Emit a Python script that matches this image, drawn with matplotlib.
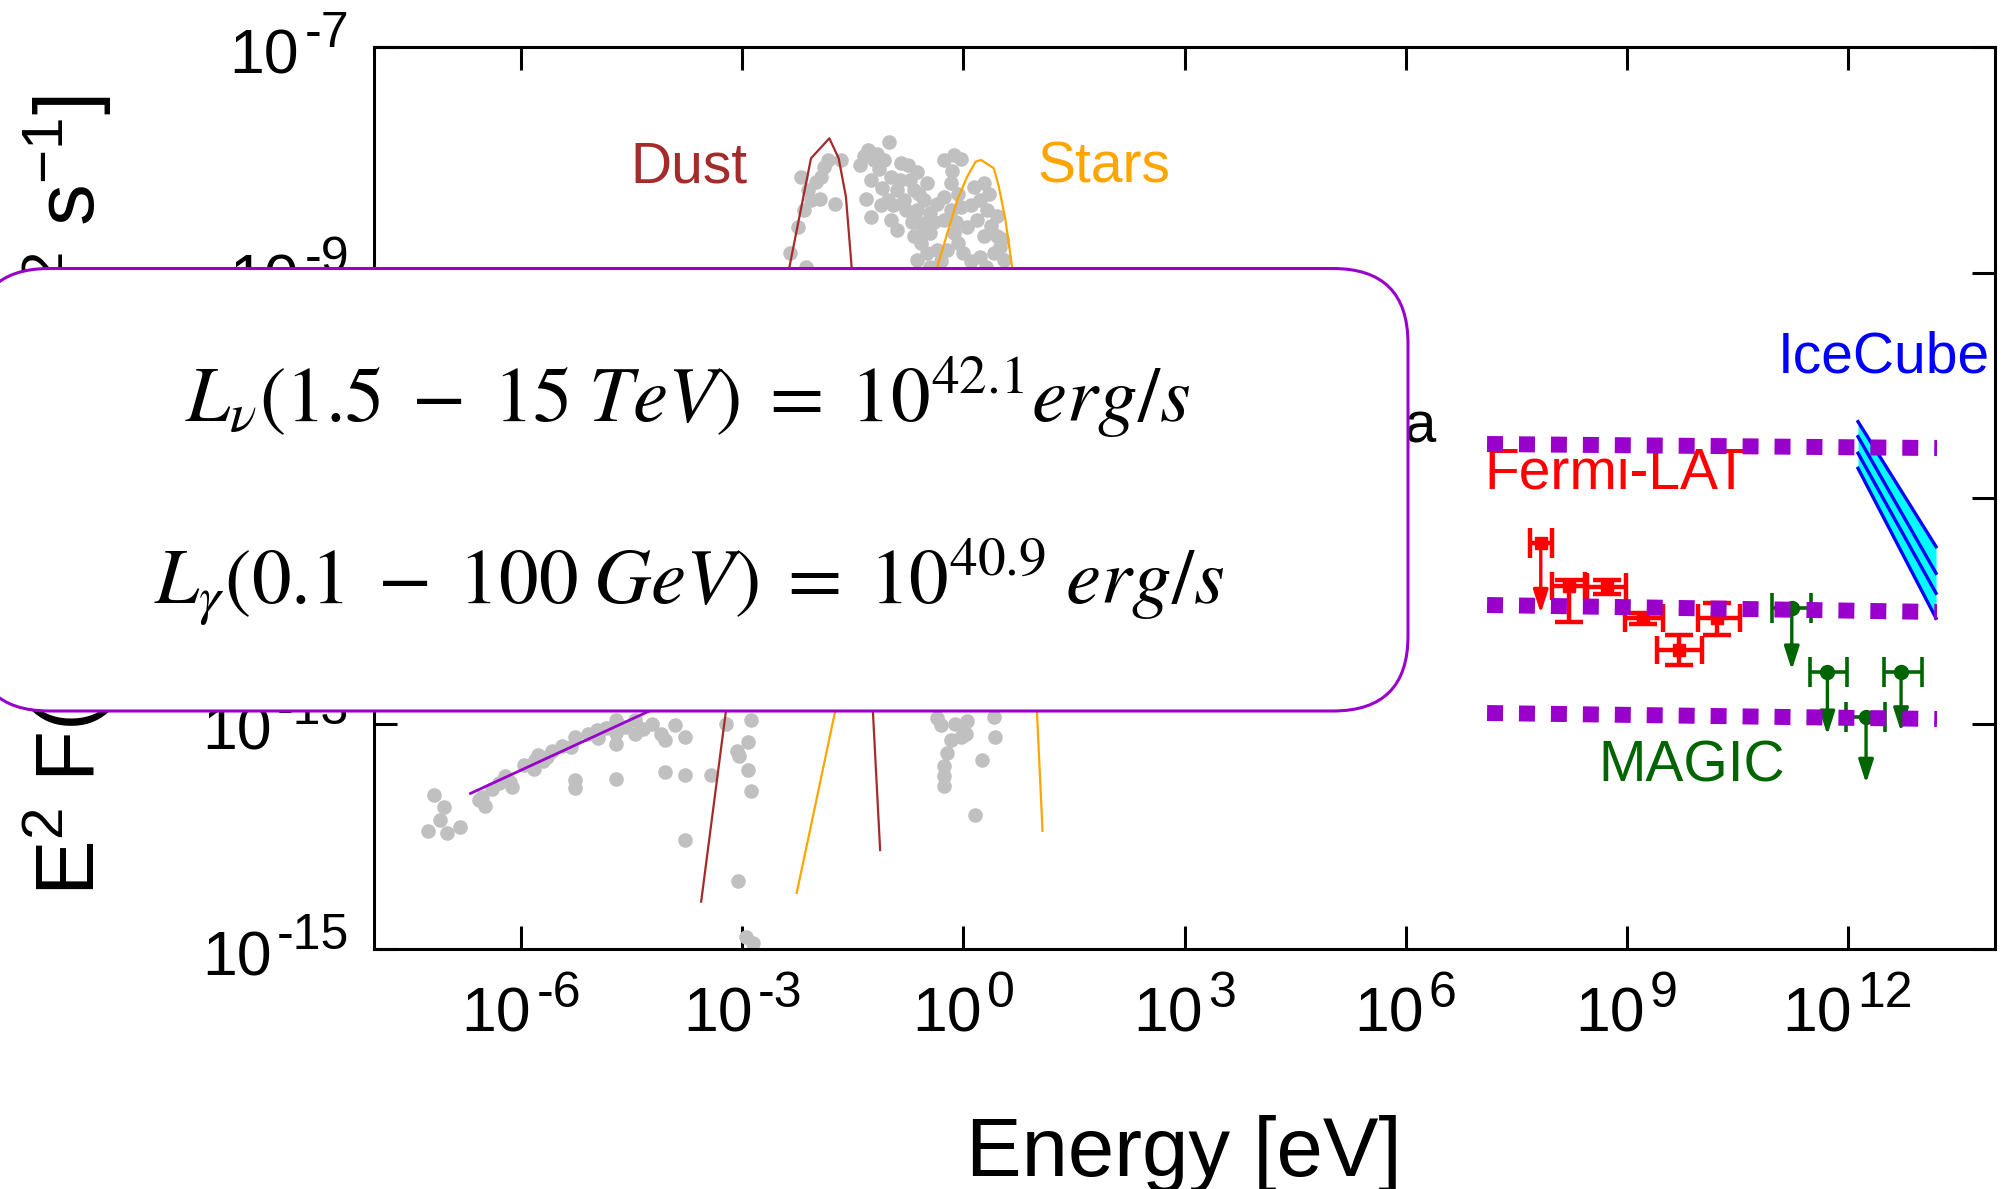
import numpy as np
import matplotlib
matplotlib.use("Agg")
import matplotlib.pyplot as plt
from matplotlib.patches import FancyBboxPatch
from matplotlib.ticker import NullLocator

plt.rcParams['font.family'] = ['Liberation Sans', 'DejaVu Sans']
plt.rcParams['mathtext.fontset'] = 'custom'
plt.rcParams['mathtext.rm'] = 'Liberation Sans'
plt.rcParams['mathtext.it'] = 'Liberation Sans:italic'
plt.rcParams['mathtext.bf'] = 'Liberation Sans:bold'

W, H, DPI = 2005, 1189, 100

# ---------------------------------------------------------------- data
# all values are log10(E / eV) and log10(E^2 F / erg cm^-2 s^-1)

# archival multi-wavelength photometry
archive_logE = [
    -7.19, -7.05, -7.10, -7.27, -7.01, -6.83, -6.58, -6.50, -6.53, -6.15,
    -6.13, -6.22, -5.83, -5.81, -5.77, -5.59, -5.27, -5.32, -5.27, -5.27,
    -4.98, -4.96, -4.71, -4.71, -4.71, -4.71, -4.46, -4.46, -4.23, -4.10,
    -4.05, -3.92, -3.78, -4.05, -3.78, -3.42, -3.78, -3.22, -2.88, -2.93,
    -3.08, -3.04, -2.93, -2.88, -3.06, -2.95, -2.86,
    -6.31, -5.97, -5.65, -5.45, -6.40, -5.70, -5.10, -4.85, -4.60, -4.35,
    -0.355, -0.31, 0.00, 0.03, -0.04, -0.175, -0.22, -0.26, -0.26, -0.26,
    0.25, 0.16, 0.41, 0.43, 0.05, -0.12,
    -2.20, -2.11, -2.07, -1.89, -1.84, -1.93, -1.75, -1.66, -2.36, -2.14,
    -2.16, -2.00, -2.25, -1.95,
    -1.30, -1.21, -1.35, -1.01, -1.08, -0.85, -1.26, -0.99, -0.90, -0.72,
    -0.63, -0.67, -0.49, -1.03, -0.81, -0.53, -1.26, -0.99, -0.90, -0.63,
    -0.58, -0.45, -0.355, -0.67, -0.58, -0.49, -0.63, -0.355, -0.45,
    -1.15, -1.10, -0.95, -0.78, -0.70, -0.55, -0.40, -0.75, -0.60, -0.45,
    -1.40, -1.12, -1.32, -0.86, -1.18,
    -0.26, -0.13, -0.04, -0.175, -0.26, -0.08, -0.175, -0.04, -0.26, -0.13,
    -0.08, -0.22, 0.00, 0.14, 0.28, 0.23, 0.32, 0.19, 0.37, 0.28,
    0.46, 0.50, 0.23, 0.41, 0.55,
    -0.30, -0.10, 0.05, 0.10, 0.35, 0.45, 0.10, -0.15, 0.30, 0.52,
]
archive_logF = [
    -13.63, -13.74, -13.86, -13.95, -13.97, -13.92, -13.68, -13.73, -13.65, -13.52,
    -13.56, -13.47, -13.40, -13.32, -13.28, -13.24, -13.12, -13.21, -13.50, -13.57,
    -13.06, -13.13, -13.49, -12.97, -13.18, -13.08, -12.97, -13.09, -13.00, -13.09,
    -13.15, -13.01, -13.12, -13.43, -13.46, -13.46, -14.03, -13.00, -12.97, -13.16,
    -13.24, -13.29, -13.41, -13.60, -14.40, -14.89, -14.95,
    -13.53, -13.37, -13.30, -13.20, -13.58, -13.33, -13.09, -13.04, -13.03, -13.05,
    -12.95, -13.01, -13.03, -13.09, -13.12, -13.15, -13.26, -13.38, -13.47, -13.55,
    -13.32, -13.81, -12.94, -13.12, -12.98, -13.00,
    -8.15, -8.27, -8.36, -8.06, -8.00, -8.15, -8.39, -8.00, -8.83, -8.95,
    -8.45, -8.20, -8.60, -8.35,
    -7.91, -8.00, -7.97, -7.84, -8.00, -8.03, -8.18, -8.15, -8.27, -8.18,
    -8.11, -8.27, -8.21, -8.36, -8.36, -8.36, -8.51, -8.53, -8.62, -8.45,
    -8.56, -8.47, -8.39, -8.68, -8.74, -8.83, -8.89, -8.80, -8.65,
    -8.08, -8.25, -8.40, -8.45, -8.55, -8.62, -8.55, -8.05, -8.30, -8.95,
    -8.05, -8.40, -8.35, -8.18, -7.95,
    -8.00, -7.96, -7.99, -8.21, -8.33, -8.30, -8.45, -8.42, -8.53, -8.65,
    -8.74, -8.80, -8.83, -8.24, -8.21, -8.36, -8.45, -8.53, -8.59, -8.68,
    -8.68, -8.77, -8.86, -8.83, -8.89,
    -8.90, -8.55, -8.60, -8.40, -8.30, -8.50, -8.90, -8.10, -8.95, -8.70,
]

# radio synchrotron power law
radio_logE = [-6.69, -4.00]
radio_logF = [-13.62, -12.81]

# thermal dust component
dust_logE = [-3.56, -3.23, -2.361, -2.069, -1.820, -1.694, -1.595, -1.518, -1.227, -1.131]
dust_logF = [-14.58, -12.92, -8.949, -7.987, -7.810, -7.987, -8.328, -8.949, -12.916, -14.122]

# stellar component
stars_logE = [-2.263, -1.749, -0.355, -0.084, 0.051, 0.164, 0.241, 0.413, 0.480, 0.570, 0.660, 0.999, 1.073]
stars_logF = [-14.503, -12.916, -8.949, -8.357, -8.150, -8.017, -8.002, -8.076, -8.239, -8.534, -8.949, -12.916, -13.953]

# Fermi-LAT spectral points
fermi_logE    = [8.223, 8.730, 9.227, 9.712, 10.232]
fermi_logE_lo = [7.985, 8.467, 8.979, 9.409, 9.974]
fermi_logE_hi = [8.436, 8.989, 9.490, 10.020, 10.540]
fermi_logF    = [-11.780, -11.791, -12.067, -12.348, -12.067]
fermi_logF_lo = [-12.097, -11.851, -12.117, -12.481, -12.215]
fermi_logF_hi = [-11.727, -11.731, -12.017, -12.215, -11.931]

# Fermi-LAT upper limit
fermi_ul_logE = [7.835]
fermi_ul_logE_lo = [7.690]
fermi_ul_logE_hi = [7.985]
fermi_ul_logF = [-11.402]
fermi_ul_logF_end = [-12.023]

# MAGIC upper limits
magic_logE    = [11.242, 11.725, 12.250, 12.725]
magic_logE_lo = [10.979, 11.490, 11.979, 12.494]
magic_logE_hi = [11.504, 11.988, 12.508, 13.006]
magic_logF    = [-11.978, -12.540, -12.940, -12.540]
magic_logF_end = [-12.525, -13.102, -13.530, -13.073]

# IceCube neutrino spectrum band
icecube_logE = [12.141, 13.200]
icecube_logF = [
    [-10.323, -11.432],
    [-10.456, -11.668],
    [-10.603, -11.845],
    [-10.737, -12.067],
]

# model flux levels
nu_logE = [7.106, 13.213]
nu_levels = [
    [-10.521, -10.557],
    [-11.949, -12.011],
    [-12.907, -12.960],
]

# axis decades
x_tick_exp = [-6, -3, 0, 3, 6, 9, 12]
y_tick_exp = [-15, -13, -11, -9, -7]

# ---------------------------------------------------------------- figure
def E(a):
    return np.power(10.0, np.asarray(a, dtype=float))

PURPLE = '#9900cc'

fig = plt.figure(figsize=(W / DPI, H / DPI), dpi=DPI)
ax = fig.add_axes([374 / W, (H - 949) / H, (1995 - 374) / W, (949 - 47) / H])
ax.set_xscale('log')
ax.set_yscale('log')
ax.set_xlim(1e-8, 1e14)
ax.set_ylim(1e-15, 1e-7)

for s in ax.spines.values():
    s.set_linewidth(2.2)
ax.set_xticks(E(x_tick_exp))
ax.set_yticks(E(y_tick_exp))
ax.xaxis.set_minor_locator(NullLocator())
ax.yaxis.set_minor_locator(NullLocator())
ax.tick_params(which='both', direction='in', length=16.5, width=2.2,
               top=True, right=True, labelbottom=False, labelleft=False)

# archival points
ax.plot(E(archive_logE), E(archive_logF), 'o', ms=10.5, color='#c0c0c0',
        mec='none', zorder=2)

# model components
ax.plot(E(radio_logE), E(radio_logF), color=PURPLE, lw=2.0, zorder=3)
ax.plot(E(dust_logE), E(dust_logF), color='#a52a2a', lw=1.6, zorder=3)
ax.plot(E(stars_logE), E(stars_logF), color='#ffa500', lw=1.6, zorder=3)

# Fermi-LAT
fx, fy = E(fermi_logE), E(fermi_logF)
ax.errorbar(fx, fy,
            xerr=[fx - E(fermi_logE_lo), E(fermi_logE_hi) - fx],
            yerr=[fy - E(fermi_logF_lo), E(fermi_logF_hi) - fy],
            fmt='s', ms=9, color='red', ecolor='red', elinewidth=3.2,
            capsize=10, capthick=3.2, zorder=4)

ARROW = '-|>,head_length=1.4,head_width=0.45'

def upper_limits(logE, lo, hi, logF, logF_end, color, ms, marker, lw):
    x, y = E(logE), E(logF)
    ax.errorbar(x, y, xerr=[x - E(lo), E(hi) - x], fmt=marker, ms=ms,
                color=color, ecolor=color, elinewidth=lw, capsize=10.5,
                capthick=lw, zorder=4)
    for xi, yi, ye in zip(x, y, E(logF_end)):
        ax.annotate('', xy=(xi, ye), xytext=(xi, yi),
                    arrowprops=dict(arrowstyle=ARROW, color=color, lw=2.4,
                                    shrinkA=0, shrinkB=0, mutation_scale=10),
                    zorder=4)

upper_limits(fermi_ul_logE, fermi_ul_logE_lo, fermi_ul_logE_hi,
             fermi_ul_logF, fermi_ul_logF_end, 'red', 9, 's', 3.2)
upper_limits(magic_logE, magic_logE_lo, magic_logE_hi,
             magic_logF, magic_logF_end, '#006400', 10, 'o', 2.6)

# IceCube band
ix = E(icecube_logE)
ice_lines = [E(v) for v in icecube_logF]
ax.fill_between(ix, ice_lines[-1], ice_lines[0], color='#00ffff', lw=0, zorder=4)
for v in ice_lines:
    ax.plot(ix, v, color='#0000ff', lw=2.4, zorder=4.5)

# model flux levels
for lv in nu_levels:
    ax.plot(E(nu_logE), E(lv), color=PURPLE, lw=11.5, dashes=(1, 1),
            dash_capstyle='butt', solid_capstyle='butt', zorder=5)

# component labels
LAB = 41
ax.text(E(-3.724), E(-8.206), 'Dust', color='#a52a2a', fontsize=LAB,
        ha='center', va='baseline')
ax.text(E(1.905), E(-8.206), 'Stars', color='#ffa500', fontsize=LAB,
        ha='center', va='baseline')
ax.text(E(6.427), E(-10.503), 'Data', color='black', fontsize=LAB,
        ha='right', va='baseline')
ax.text(E(8.864), E(-10.920), 'Fermi-LAT', color='red', fontsize=LAB,
        ha='center', va='baseline', zorder=3)
ax.text(E(12.494), E(-9.891), 'IceCube', color='#0000ff', fontsize=LAB,
        ha='center', va='baseline')
ax.text(E(9.888), E(-13.510), 'MAGIC', color='#006400', fontsize=LAB,
        ha='center', va='baseline')

# tick labels as 10 with a raised exponent
TICK_FS, EXP_FS, GAP = 45, 36, 5
x_pairs, y_pairs = [], []
for e in x_tick_exp:
    kw = dict(xycoords=ax.get_xaxis_transform(), xytext=(0, 0),
              textcoords='offset pixels', ha='left', va='baseline',
              annotation_clip=False)
    b = ax.annotate('10', xy=(10.0 ** e, 0), fontsize=TICK_FS, **kw)
    s = ax.annotate(str(e), xy=(10.0 ** e, 0), fontsize=EXP_FS, **kw)
    x_pairs.append((b, s))
for e in y_tick_exp:
    kw = dict(xycoords=ax.get_yaxis_transform(), xytext=(0, 0),
              textcoords='offset pixels', ha='left', va='baseline',
              annotation_clip=False)
    b = ax.annotate('10', xy=(0, 10.0 ** e), fontsize=TICK_FS, **kw)
    s = ax.annotate(str(e), xy=(0, 10.0 ** e), fontsize=EXP_FS, **kw)
    y_pairs.append((b, s))

# axis titles
fig.text(0.68, 6.935, r'E$^{2}$ F(E) [erg cm$^{-2}$ s$^{-1}$]', fontsize=60,
         rotation=90, ha='center', va='center', transform=fig.dpi_scale_trans)
fig.text(11.84, 0.13, 'Energy [eV]', fontsize=60, ha='center', va='baseline',
         transform=fig.dpi_scale_trans)

# luminosity panel
box = FancyBboxPatch((-0.26, 4.78), 14.34, 4.425,
                     boxstyle='round,pad=0,rounding_size=0.75',
                     transform=fig.dpi_scale_trans, facecolor='white',
                     edgecolor=PURPLE, linewidth=2.2, zorder=10)
fig.add_artist(box)
fig.text(6.88, 7.67, r'$L_{\nu}(1.5\;-\;15\;TeV)\;=\;10^{42.1}erg/s$',
         fontsize=57, ha='center', va='baseline', math_fontfamily='stix',
         transform=fig.dpi_scale_trans, zorder=11)
fig.text(6.89, 5.84, r'$L_{\gamma}(0.1\;-\;100\;GeV)\;=\;10^{40.9}\;erg/s$',
         fontsize=57, ha='center', va='baseline', math_fontfamily='stix',
         transform=fig.dpi_scale_trans, zorder=11)

# place the power-of-ten labels now that their widths are known
fig.canvas.draw()
r = fig.canvas.get_renderer()
for b, s in x_pairs:
    wb = b.get_window_extent(r).width
    ws = s.get_window_extent(r).width
    left = -(wb + GAP + ws) / 2
    b.xyann = (left, -82)
    s.xyann = (left + wb + GAP, -58)
for b, s in y_pairs:
    wb = b.get_window_extent(r).width
    ws = s.get_window_extent(r).width
    s.xyann = (-25 - ws, 0)
    b.xyann = (-25 - ws - GAP - wb, -26)

fig.savefig('out.png', dpi=DPI)
